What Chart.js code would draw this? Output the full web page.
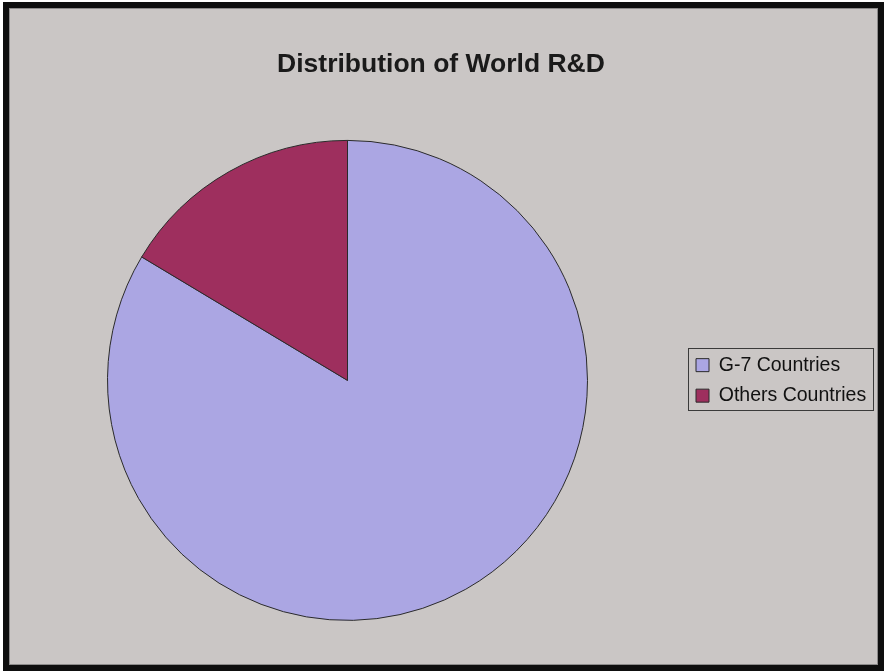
<!DOCTYPE html>
<html>
<head>
<meta charset="utf-8">
<title>Distribution of World R&amp;D</title>
<script src="https://cdn.jsdelivr.net/npm/chart.js@4/dist/chart.umd.min.js"></script>
<style>
  body { margin: 0; background: #fff; }
  #frame {
    position: absolute; left: 3px; top: 2px;
    width: 869px; height: 657px;
    border: 6px solid #0e0e0e;
  }
  #panel {
    width: 867px; height: 655px;
    border: 1px solid #8c8a8a;
    background: #cac6c5;
  }
  canvas { display: block; }
</style>
</head>
<body>
<div id="frame"><div id="panel"><canvas id="rd" width="867" height="655"></canvas></div></div>
<script>
// ── Data ──────────────────────────────────────────────
const categories = ['G-7 Countries', 'Others Countries'];
const shares = [83.6, 16.4];   // % of world R&D spending

// ── Palette ───────────────────────────────────────────
const SLICE_COLORS = ['#aba6e3', '#9e2f5e'];
const EDGE = '#2a2a2a';
const FONT = "'Liberation Sans', Arial, sans-serif";

// draws the thin box round the legend entries
const legendFrame = {
  id: 'legendFrame',
  afterDraw(chart) {
    const boxes = chart.legend && chart.legend.legendHitBoxes;
    if (!boxes || !boxes.length) return;
    const left = Math.min(...boxes.map(b => b.left)) - 8;
    const right = Math.max(...boxes.map(b => b.left + b.width)) + 7;
    const top = Math.min(...boxes.map(b => b.top)) - 7;
    const bottom = Math.max(...boxes.map(b => b.top + b.height)) + 5;
    const ctx = chart.ctx;
    ctx.save();
    ctx.strokeStyle = '#3a3a3a';
    ctx.lineWidth = 1;
    ctx.strokeRect(Math.round(left) + 0.5, Math.round(top) + 0.5,
                   Math.round(right - left), Math.round(bottom - top));
    ctx.restore();
  }
};

new Chart(document.getElementById('rd'), {
  type: 'pie',
  data: {
    labels: categories,
    datasets: [{
      data: shares,
      backgroundColor: SLICE_COLORS,
      borderColor: EDGE,
      borderWidth: 1,
      radius: 240
    }]
  },
  options: {
    responsive: false,
    animation: false,
    layout: { padding: { left: 0, right: 5, top: 0, bottom: 12 } },
    plugins: {
      title: {
        display: true,
        text: 'Distribution of World R&D',
        color: '#1a1a1a',
        font: { family: FONT, size: 26.5, weight: 'bold' },
        padding: { top: 40, bottom: 28 }
      },
      legend: {
        position: 'right',
        fullSize: false,
        maxWidth: 187,
        labels: {
          boxWidth: 13,
          boxHeight: 13,
          padding: 11,
          color: '#111',
          font: { family: FONT, size: 19.5 }
        }
      },
      tooltip: { enabled: false }
    }
  },
  plugins: [legendFrame]
});
</script>
</body>
</html>
